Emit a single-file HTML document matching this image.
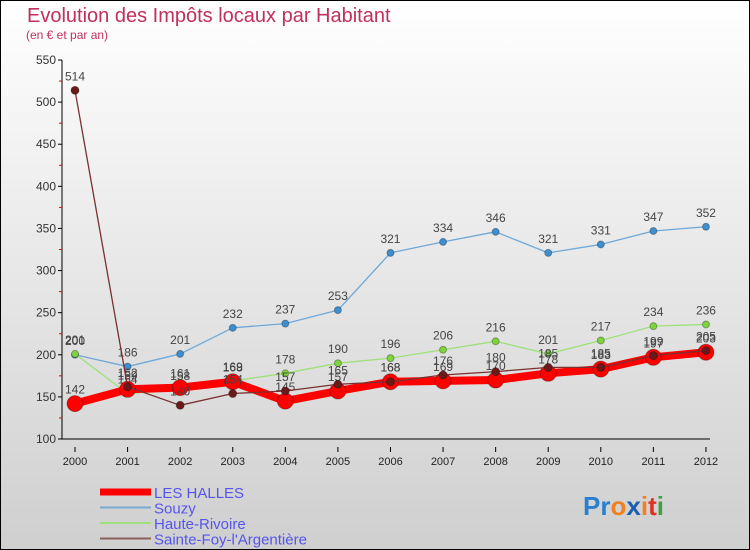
<!DOCTYPE html>
<html><head><meta charset="utf-8"><style>
body{margin:0;width:750px;height:550px;overflow:hidden}
svg{display:block;font-family:"Liberation Sans",sans-serif}
</style></head><body>
<svg id="c" width="750" height="550" viewBox="0 0 750 550">
<defs><linearGradient id="bg" x1="0" y1="0" x2="0" y2="1"><stop offset="0" stop-color="#ffffff"/><stop offset="1" stop-color="#cfcfcf"/></linearGradient></defs>
<rect x="0.5" y="0.5" width="749" height="549" fill="url(#bg)" stroke="#000"/>
<text x="27" y="22" font-size="20" fill="#c0305a">Evolution des Impôts locaux par Habitant</text>
<text x="26" y="39" font-size="12" fill="#c0305a">(en € et par an)</text>
<g id="axes"></g><g id="series"></g><g id="legend"></g>
<text x="583" y="515" font-size="26" font-weight="bold"><tspan fill="#2a7fd0">Pr</tspan><tspan fill="#f08020">o</tspan><tspan fill="#1a5fb0">x</tspan><tspan fill="#f08020">i</tspan><tspan fill="#e03020">t</tspan><tspan fill="#40a040">i</tspan></text>
</svg>
<script>
const years=["2000","2001","2002","2003","2004","2005","2006","2007","2008","2009","2010","2011","2012"];
const yTicks=[100,150,200,250,300,350,400,450,500,550];
const lesHalles=[142,159,161,168,145,157,168,169,170,178,183,197,203];
const souzy=[200,186,201,232,237,253,321,334,346,321,331,347,352];
const hauteRivoire=[201,154,158,169,178,190,196,206,216,201,217,234,236];
const sainteFoy=[514,162,140,154,157,165,168,176,180,185,185,199,205];
const NS="http://www.w3.org/2000/svg";
const X=i=>75+i*52.58, Y=v=>439-(v-100)*379/450;
function mk(t,a,p){const e=document.createElementNS(NS,t);for(const k in a)e.setAttribute(k,a[k]);p.appendChild(e);return e;}
const ax=document.getElementById('axes');
let yl=mk('line',{x1:62,y1:60,x2:62,y2:439,stroke:'#000'},ax);


yTicks.forEach(v=>{
 mk('line',{x1:58,y1:Y(v),x2:62,y2:Y(v),stroke:'#000'},ax);
 if(v<550)mk('line',{x1:59,y1:Y(v+25),x2:62,y2:Y(v+25),stroke:'#e00'},ax);
 const t=mk('text',{x:56,y:Y(v)+4,'font-size':12,fill:'#333','text-anchor':'end'},ax);t.textContent=v;
 
 
});
let xl=mk('line',{x1:62,y1:439,x2:710,y2:439,stroke:'#000'},ax);


years.forEach((y,i)=>{
 mk('line',{x1:X(i),y1:447,x2:X(i),y2:452,stroke:'#000'},ax);
 const t=mk('text',{x:X(i),y:465,'font-size':11,fill:'#222','text-anchor':'middle'},ax);t.textContent=y;
 
 
});
const S=document.getElementById('series');
function draw(data,color,w,r,name,dot){
 const g=mk('g',{},S);
 
 
 mk('polyline',{points:data.map((v,i)=>X(i)+','+Y(v)).join(' '),fill:'none',stroke:color,'stroke-width':w,'stroke-linejoin':'round'},g);
 data.forEach((v,i)=>{
  const c=mk('circle',{cx:X(i),cy:Y(v),r:r,fill:dot,stroke:'rgba(0,0,0,0.3)'},g);
  
  
  const t=mk('text',{x:X(i),y:Y(v)-10,'font-size':12,fill:'#444','text-anchor':'middle'},g);t.textContent=v;
  
  
 });
}
draw(souzy,'#6fa8d8',1.3,3.5,'souzy-series','#3d8fd0');
draw(hauteRivoire,'#9fe07a',1.3,3.5,'haute-rivoire-series','#7ed43c');
draw(lesHalles,'#ff0000',8,8,'les-halles-series','#f00');
draw(sainteFoy,'#7a3030',1.3,4,'sainte-foy-series','#6a1a1a');
const L=document.getElementById('legend');
[['LES HALLES','#f00',7],['Souzy','#7aaad0',2],['Haute-Rivoire','#9fe07a',2],['Sainte-Foy-l\'Argentière','#8a6060',2]].forEach((d,i)=>{
 const g=mk('g',{},L);
 
 
 mk('line',{x1:100,y1:492+i*15.5,x2:151,y2:492+i*15.5,stroke:d[1],'stroke-width':d[2]},g);
 const t=mk('text',{x:154,y:498+i*15.5,'font-size':15,fill:'#5555ee'},g);t.textContent=d[0];
});
</script>
</body></html>
